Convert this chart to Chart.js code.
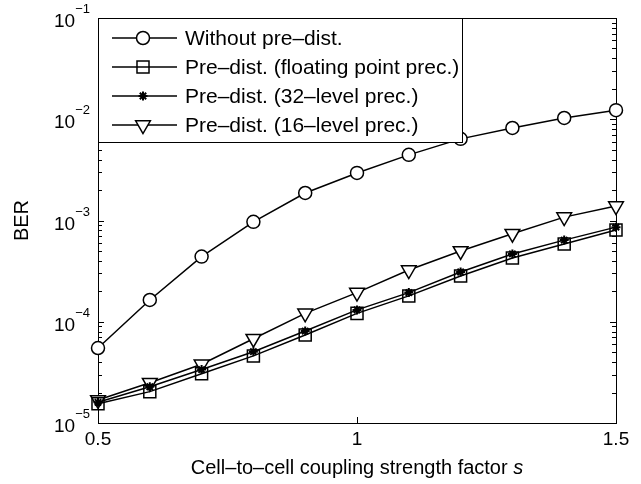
<!DOCTYPE html>
<html>
<head>
<meta charset="utf-8">
<script src="https://cdn.jsdelivr.net/npm/chart.js@4"></script>
<style>
  html, body { margin: 0; padding: 0; background: #fff; }
  #wrap { width: 641px; height: 484px; }
</style>
</head>
<body>
<div id="wrap"><canvas id="berChart" width="641" height="484"></canvas></div>
<script>
// ── data ────────────────────────────────────────────────────────
const couplingS = [0.5, 0.6, 0.7, 0.8, 0.9, 1.0, 1.1, 1.2, 1.3, 1.4, 1.5];
const berWithout = [5.5e-5, 1.64e-4, 4.4e-4, 9.7e-4, 1.87e-3, 2.95e-3, 4.45e-3, 6.4e-3, 8.2e-3, 1.03e-2, 1.23e-2];
const berFloat   = [1.55e-5, 2.04e-5, 3.07e-5, 4.6e-5, 7.4e-5, 1.21e-4, 1.8e-4, 2.83e-4, 4.26e-4, 5.86e-4, 8.06e-4];
const ber32      = [1.6e-5, 2.28e-5, 3.37e-5, 5.06e-5, 8.1e-5, 1.31e-4, 1.94e-4, 3.1e-4, 4.67e-4, 6.4e-4, 8.6e-4];
const ber16      = [1.69e-5, 2.5e-5, 3.8e-5, 6.8e-5, 1.21e-4, 1.94e-4, 3.24e-4, 5.0e-4, 7.4e-4, 1.08e-3, 1.39e-3];

const seriesLabels = [
  "Without pre\u2013dist.",
  "Pre\u2013dist. (floating point prec.)",
  "Pre\u2013dist. (32\u2013level prec.)",
  "Pre\u2013dist. (16\u2013level prec.)",
];
const xTickValues = [0.5, 1, 1.5];
const xTickLabels = ["0.5", "1", "1.5"];
const yTickExponents = [-5, -4, -3, -2, -1];
const xTitle = "Cell\u2013to\u2013cell coupling strength factor ";
const xTitleItalic = "s";
const yTitle = "BER";

const FONT = '"Liberation Sans", Arial, Helvetica, sans-serif';

// MATLAB-ish marker styles
const markers = [
  { pointStyle: "circle",   radius: 6.5, rotation: 0,   fill: "#fff" },
  { pointStyle: "rect",     radius: 8.5, rotation: 0,   fill: "rgba(0,0,0,0)" },
  { pointStyle: "star",     radius: 4.5, rotation: 0,   fill: "#000" },
  { pointStyle: "triangle", radius: 8.5, rotation: 180, fill: "#fff" },
];

function makeDataset(label, values, m) {
  return {
    label,
    data: couplingS.map((s, i) => ({ x: s, y: values[i] })),
    borderColor: "#000",
    borderWidth: 1.5,
    pointStyle: m.pointStyle,
    pointRadius: m.radius,
    pointRotation: m.rotation,
    pointBackgroundColor: m.fill,
    pointBorderColor: "#000",
    pointBorderWidth: m.pointStyle === "star" ? 2 : 1.5,
    tension: 0,
    clip: false,
  };
}

// ── axes frame, inside ticks, labels ────────────────────────────
const matlabAxes = {
  id: "matlabAxes",
  beforeDatasetsDraw(chart) {
    const { ctx, chartArea: a } = chart;
    const xs = chart.scales.x, ys = chart.scales.y;
    ctx.save();
    ctx.strokeStyle = "#000";
    ctx.lineWidth = 1;
    ctx.strokeRect(Math.round(a.left) + 0.5, Math.round(a.top) + 0.5,
      Math.round(a.right - a.left), Math.round(a.bottom - a.top));

    ctx.beginPath();
    xTickValues.forEach((v) => {
      const px = Math.round(xs.getPixelForValue(v)) + 0.5;
      ctx.moveTo(px, a.bottom); ctx.lineTo(px, a.bottom - 6);
      ctx.moveTo(px, a.top); ctx.lineTo(px, a.top + 6);
    });
    for (let e = -5; e <= -1; e++) {
      for (let k = 1; k <= 9; k++) {
        const v = k * Math.pow(10, e);
        if (v > 0.1 + 1e-12) break;
        const py = Math.round(ys.getPixelForValue(v)) + 0.5;
        const len = k === 1 ? 6 : 4;
        ctx.moveTo(a.left, py); ctx.lineTo(a.left + len, py);
        ctx.moveTo(a.right, py); ctx.lineTo(a.right - len, py);
      }
    }
    ctx.stroke();
    ctx.restore();
  },
  afterDraw(chart) {
    const { ctx, chartArea: a } = chart;
    const xs = chart.scales.x, ys = chart.scales.y;
    ctx.save();
    ctx.fillStyle = "#000";

    // x tick labels
    ctx.font = "19px " + FONT;
    ctx.textAlign = "center";
    ctx.textBaseline = "middle";
    xTickValues.forEach((v, i) => {
      ctx.fillText(xTickLabels[i], xs.getPixelForValue(v), a.bottom + 17);
    });

    // y tick labels 10^e
    yTickExponents.forEach((e) => {
      const py = ys.getPixelForValue(Math.pow(10, e));
      const exp = "\u2212" + Math.abs(e);
      ctx.font = "13px " + FONT;
      const expW = ctx.measureText(exp).width;
      const right = a.left - 8;
      ctx.textAlign = "right";
      ctx.textBaseline = "alphabetic";
      ctx.fillText(exp, right, py - 5);
      ctx.font = "19px " + FONT;
      ctx.fillText("10", right - expW, py + 9);
    });

    // x title with italic s
    ctx.textBaseline = "middle";
    ctx.textAlign = "left";
    ctx.font = "20px " + FONT;
    const w1 = ctx.measureText(xTitle).width;
    ctx.font = "italic 20px " + FONT;
    const w2 = ctx.measureText(xTitleItalic).width;
    const cx = (a.left + a.right) / 2;
    let x0 = cx - (w1 + w2) / 2;
    ctx.font = "20px " + FONT;
    ctx.fillText(xTitle, x0, 468);
    ctx.font = "italic 20px " + FONT;
    ctx.fillText(xTitleItalic, x0 + w1, 468);

    // y title
    ctx.save();
    ctx.translate(22, (a.top + a.bottom) / 2);
    ctx.rotate(-Math.PI / 2);
    ctx.textAlign = "center";
    ctx.font = "20px " + FONT;
    ctx.fillText(yTitle, 0, 0);
    ctx.restore();

    // legend box, drawn over the data like MATLAB does
    const box = { left: 98, top: 18, right: 462, bottom: 142 };
    ctx.fillStyle = "#fff";
    ctx.fillRect(box.left, box.top, box.right - box.left, box.bottom - box.top);
    ctx.strokeStyle = "#000";
    ctx.lineWidth = 1;
    ctx.strokeRect(box.left + 0.5, box.top + 0.5, box.right - box.left, box.bottom - box.top);

    seriesLabels.forEach((label, i) => {
      const y = 38 + i * 29;
      const m = markers[i];
      ctx.strokeStyle = "#000";
      ctx.lineWidth = 1.5;
      ctx.beginPath();
      ctx.moveTo(112, y); ctx.lineTo(177, y);
      ctx.stroke();
      ctx.fillStyle = m.fill;
      ctx.lineWidth = m.pointStyle === "star" ? 2 : 1.5;
      if (Chart.helpers && Chart.helpers.drawPoint) {
        Chart.helpers.drawPoint(ctx, {
          pointStyle: m.pointStyle,
          radius: m.radius,
          rotation: m.rotation,
          borderWidth: ctx.lineWidth,
        }, 143, y);
      }
      ctx.fillStyle = "#000";
      ctx.font = "21px " + FONT;
      ctx.textAlign = "left";
      ctx.textBaseline = "middle";
      ctx.fillText(label, 185, y + 1);
    });
    ctx.restore();
  },
};

new Chart(document.getElementById("berChart"), {
  type: "line",
  data: {
    datasets: [
      makeDataset(seriesLabels[0], berWithout, markers[0]),
      makeDataset(seriesLabels[1], berFloat, markers[1]),
      makeDataset(seriesLabels[2], ber32, markers[2]),
      makeDataset(seriesLabels[3], ber16, markers[3]),
    ],
  },
  options: {
    responsive: false,
    animation: false,
    devicePixelRatio: 1,
    layout: { padding: { left: 98, right: 25, top: 18, bottom: 61 } },
    scales: {
      x: { type: "linear", min: 0.5, max: 1.5, display: false },
      y: { type: "logarithmic", min: 1e-5, max: 1e-1, display: false },
    },
    plugins: { legend: { display: false }, tooltip: { enabled: false } },
  },
  plugins: [matlabAxes],
});
</script>
</body>
</html>
